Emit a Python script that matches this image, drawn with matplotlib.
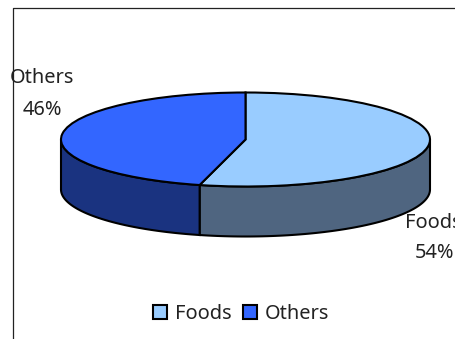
import numpy as np
import matplotlib
matplotlib.use("Agg")
import matplotlib.pyplot as plt
from matplotlib.lines import Line2D

# data
categories = ["Foods", "Others"]
values = [54, 46]
top_colors = ["#99CCFF", "#3366FF"]
side_colors = ["#4F6580", "#1A3380"]

W, H = 456, 339
# pie geometry in pixels
cx, cy = 245.5, 139.5
rx, ry = 184.5, 47.0
depth = 50.0

plt.rcParams["font.family"] = ["Noto Sans", "DejaVu Sans"]
fs = 20 * 0.72

fig = plt.figure(figsize=(W / 100, H / 100), dpi=100, facecolor="white")
ax = fig.add_axes([0, 0, 1, 1])

# top of the pie, squashed by the axes limits
wedges, _ = ax.pie(values, colors=top_colors, startangle=90, counterclock=False,
                   wedgeprops={"edgecolor": "black", "linewidth": 1.5, "zorder": 3})

# side wall, only the front half of the ellipse shows
d = depth / ry
start = 0.0
for v, c in zip(values, side_colors):
    end = start + v / sum(values) * 360
    a0, a1 = max(start, 90), min(end, 270)
    t = np.radians(np.linspace(a0, a1, 80))
    x = np.sin(t)
    y = np.cos(t)
    ax.fill(np.r_[x, x[::-1]], np.r_[y, y[::-1] - d], facecolor=c,
            edgecolor="black", linewidth=1.5, zorder=2)
    start = end

ax.set_xlim(-cx / rx, (W - cx) / rx)
ax.set_ylim(-(H - cy) / ry, cy / ry)
ax.set_aspect("auto")
ax.axis("off")


def px(x, y):
    return x / W, 1 - y / H


# frame, right and bottom edges fall outside the picture
fig.add_artist(Line2D([13.5 / W, 13.5 / W, 1], [0, 1 - 7.5 / H, 1 - 7.5 / H],
                      color="#222222", linewidth=0.9))

# data labels
tc = "#222222"
fig.text(*px(42, 78), "Others", fontsize=fs, color=tc, ha="center", va="center")
fig.text(*px(42, 110), "46%", fontsize=fs, color=tc, ha="center", va="center")
fig.text(*px(405.5, 222.5), "Foods", fontsize=fs, color=tc, ha="left", va="center")
fig.text(*px(435, 253.5), "54%", fontsize=fs, color=tc, ha="center", va="center")

# legend
fig.legend(wedges, categories, loc="center", bbox_to_anchor=px(241, 314), ncol=2,
           frameon=False, fontsize=fs, labelcolor=tc, handlelength=0.72,
           handleheight=0.72, handletextpad=0.4, columnspacing=0.55)

fig.savefig("out.png", dpi=100)
